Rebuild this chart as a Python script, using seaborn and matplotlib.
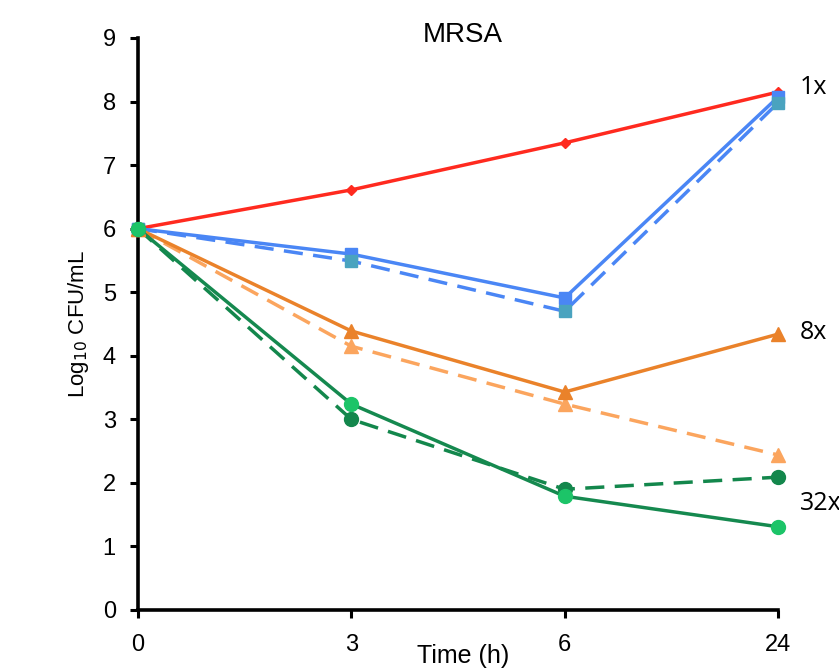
import matplotlib
matplotlib.use("Agg")
import matplotlib.pyplot as plt
import seaborn as sns
import pandas as pd

sns.set_theme(style="ticks")
plt.rcParams['font.family'] = ['Liberation Sans', 'DejaVu Sans']
plt.rcParams['text.color'] = 'black'
plt.rcParams['axes.labelcolor'] = 'black'

time_labels = ["0", "3", "6", "24"]
red_1x = [6.0, 6.61, 7.35, 8.15]
blue_solid = [6.0, 5.60, 4.91, 8.07]
blue_dashed = [6.0, 5.49, 4.70, 7.98]
orange_solid = [6.0, 4.39, 3.43, 4.34]
orange_dashed = [6.0, 4.15, 3.24, 2.44]
green_solid = [6.0, 3.24, 1.79, 1.31]
green_dashed = [6.0, 3.00, 1.90, 2.09]
yticks = list(range(0, 10))
group_labels = ["1x", "8x", "32x"]

series = [
    # values, line color, marker color, marker, size, dashed
    (red_1x, "#ff2a1f", "#ff2a1f", "D", 5, False),
    (blue_solid, "#4a86f5", "#4a86f5", "s", 9, False),
    (blue_dashed, "#4a86f5", "#4aa3bf", "s", 9, True),
    (orange_dashed, "#fba55e", "#fba55e", "^", 10, True),
    (orange_solid, "#ea822a", "#ea822a", "^", 10, False),
    (green_dashed, "#13874c", "#13874c", "o", 10, True),
    (green_solid, "#15894f", "#1cc468", "o", 10, False),
]

fig = plt.figure(figsize=(8.39, 6.71), dpi=100)
ax = fig.add_axes([138/839, 61/671, 640/839, 572/671])

pos = list(range(len(time_labels)))
for vals, lc, mc, mk, ms, dashed in series:
    df = pd.DataFrame({"t": pos, "v": vals})
    sns.lineplot(data=df, x="t", y="v", ax=ax, color=lc, lw=2.5,
                 linestyle=(0, (5.5, 3)) if dashed else "-", clip_on=False)
    ax.plot(df["t"], df["v"], linestyle="none", marker=mk, ms=ms, color=mc,
            mec=mc, clip_on=False, zorder=4)

ax.set_xlim(0, 3)
ax.set_ylim(0, 9)
ax.set_xticks(pos)
ax.set_xticklabels(time_labels)
ax.set_yticks(yticks)
ax.tick_params(axis="both", direction="out", length=6, width=2.2, labelsize=17,
               color="black", labelcolor="black")
ax.tick_params(axis="x", pad=11)
ax.tick_params(axis="y", pad=10)
for s in ["top", "right"]:
    ax.spines[s].set_visible(False)
for s in ["left", "bottom"]:
    ax.spines[s].set_linewidth(2.6)
    ax.spines[s].set_color("black")

ax.set_xlabel("")
ax.set_ylabel("Log$_{10}$ CFU/mL", fontsize=16, labelpad=8, color="black")

fig.text(463/839, 1 - 42/671, "MRSA", ha="center", va="baseline", fontsize=20,
         color="black")
fig.text(463/839, 1 - 663/671, "Time (h)", ha="center", va="baseline", fontsize=18,
         color="black")

label_ypix = [88, 332, 503]
for lab, yp in zip(group_labels, label_ypix):
    fig.text(800/839, 1 - yp/671, lab, ha="left", va="center", fontsize=18,
             family=["Open Sans", "DejaVu Sans"], color="black")

fig.savefig("out.png", dpi=100)
